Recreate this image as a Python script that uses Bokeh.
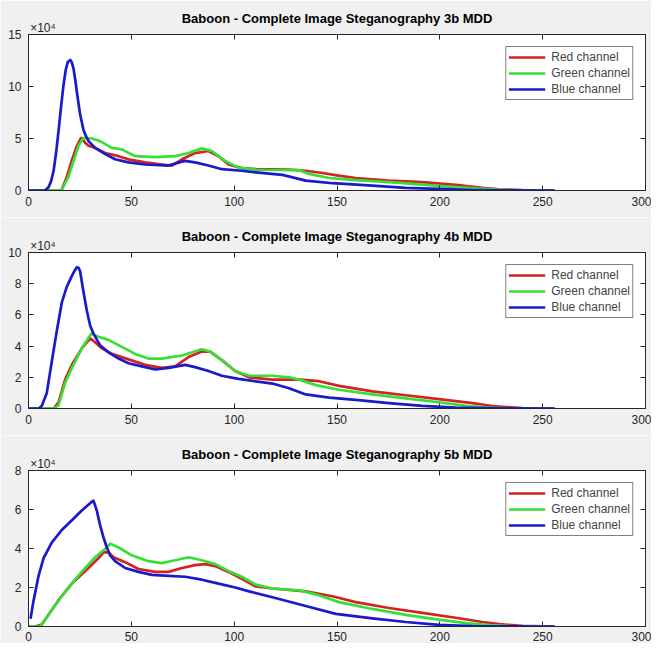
from bokeh.plotting import figure
from bokeh.models import LinearAxis, Range1d, FixedTicker
from bokeh.layouts import column
from bokeh.embed import file_html
from bokeh.resources import INLINE

# ---------------- data (values in units of 10^4 pixels) ----------------
x_ticks = [0, 50, 100, 150, 200, 250, 300]
series_names = ["Red channel", "Green channel", "Blue channel"]
exponent_text = "\u00d710\u2074"

titles = ["Baboon - Complete Image Steganography 3b MDD",
          "Baboon - Complete Image Steganography 4b MDD",
          "Baboon - Complete Image Steganography 5b MDD"]
y_max = [15, 10, 8]
y_ticks_3b = [0, 5, 10, 15]
y_ticks_4b = [0, 2, 4, 6, 8, 10]
y_ticks_5b = [0, 2, 4, 6, 8]

# 3b
red_3b_x = [0, 16, 18.6, 21, 23.5, 25.6, 27.5, 29.2, 32.4, 37.3, 43.8, 48.6, 56.7, 64.8, 69.7, 74.6, 81, 87.5,
            92.4, 97.2, 103.7, 110.5, 126.7, 134.8, 142.9, 150, 159.1, 175.3, 191.5, 207.7, 220.7, 228.8, 240, 255]
red_3b_y = [0, 0, 1.3, 2.85, 4.3, 5.05, 4.6, 4.3, 4.1, 3.6, 3.3, 3.0, 2.7, 2.5, 2.4, 3.0, 3.6, 3.8,
            3.3, 2.5, 2.15, 2.05, 2.0, 1.9, 1.68, 1.45, 1.2, 0.95, 0.8, 0.55, 0.25, 0.12, 0.03, 0]
green_3b_x = [0, 16, 19.4, 21.9, 24.3, 26.7, 30.8, 34.8, 40.5, 45.4, 51.9, 61.6, 71.3, 77.8, 84.3, 89.1, 95.6,
              102, 110.5, 131.6, 136.4, 146.2, 159.1, 175.3, 191.5, 207.7, 220.7, 232, 255]
green_3b_y = [0, 0, 1.3, 2.85, 4.3, 5.05, 5.0, 4.75, 4.1, 3.95, 3.3, 3.2, 3.3, 3.6, 4.05, 3.8, 2.85,
              2.2, 2.0, 1.95, 1.6, 1.2, 1.0, 0.8, 0.57, 0.32, 0.15, 0.03, 0]
blue_3b_x = [0, 8, 9.7, 11, 12.2, 13.4, 14.6, 15.8, 17, 18.1, 19.1, 20.3, 21.1, 21.9, 22.7, 23.5, 25.1, 26.7,
             28, 29.2, 32.4, 37.3, 42.1, 48.6, 56.7, 68, 76, 81, 87.5, 94, 103.7, 110.5, 123.5, 134.8, 147.8,
             167.2, 183.4, 199.6, 215.9, 230, 256]
blue_3b_y = [0, 0, 0.3, 0.9, 1.9, 3.6, 5.7, 8.0, 10.1, 11.6, 12.35, 12.55, 12.3, 11.7, 10.7, 9.5, 7.3, 5.85,
             5.2, 4.75, 4.1, 3.5, 3.0, 2.7, 2.5, 2.4, 2.85, 2.7, 2.4, 2.05, 1.9, 1.75, 1.5, 0.95, 0.7,
             0.47, 0.25, 0.15, 0.05, 0.01, 0]

# 4b
red_4b_x = [0, 12.2, 14.6, 17.8, 21.1, 25.9, 30, 32.4, 35.7, 40.5, 48.6, 56.7, 64.8, 71.3, 77.8, 84.3, 88.3, 94,
            100.5, 107.3, 118.6, 131.6, 141.3, 151, 167.2, 183.4, 199.6, 215.9, 227.2, 240, 255]
red_4b_y = [0, 0, 0.4, 1.85, 2.8, 3.85, 4.5, 4.25, 3.85, 3.5, 3.15, 2.8, 2.6, 2.7, 3.3, 3.65, 3.65, 3.1,
            2.4, 2.0, 1.85, 1.85, 1.75, 1.45, 1.1, 0.85, 0.6, 0.35, 0.13, 0.03, 0]
green_4b_x = [0, 12.2, 14.6, 17.8, 21.1, 25.9, 30.5, 34, 38.9, 45.4, 51.9, 58.3, 64.8, 74.6, 84.3, 88.3, 94,
              100.5, 107.3, 118.6, 126.7, 131.6, 139.7, 151, 167.2, 183.4, 199.6, 212.6, 224, 235, 255]
green_4b_y = [0, 0, 0.2, 1.65, 2.6, 3.85, 4.8, 4.6, 4.4, 3.95, 3.5, 3.2, 3.2, 3.4, 3.8, 3.65, 3.1,
              2.4, 2.1, 2.1, 2.0, 1.85, 1.5, 1.2, 0.9, 0.65, 0.4, 0.17, 0.05, 0.01, 0]
blue_4b_x = [0, 5, 6.5, 8.9, 11.3, 13.8, 16.2, 18.6, 21.1, 22.5, 23.5, 24.4, 25.1, 26.7, 28.4, 30, 31.6, 34.8,
             38.9, 43.8, 48.6, 55.1, 61.6, 68.1, 76.2, 81, 87.5, 94, 102.1, 107.3, 118.6, 126.7, 134.8, 146.2,
             159.1, 175.3, 191.5, 207.7, 224, 256]
blue_4b_y = [0, 0, 0.17, 1.0, 3.0, 5.0, 6.8, 7.8, 8.5, 8.85, 9.05, 9.0, 8.8, 7.5, 6.25, 5.3, 4.8, 4.05,
             3.6, 3.2, 2.9, 2.7, 2.5, 2.6, 2.8, 2.65, 2.4, 2.1, 1.9, 1.8, 1.6, 1.3, 0.9, 0.7,
             0.55, 0.35, 0.17, 0.06, 0.02, 0]

# 5b
red_5b_x = [0, 3.2, 6.5, 9.7, 14.6, 21.1, 27.6, 34, 36.5, 38.9, 41.3, 47, 53.5, 61.6, 68.1, 74.6, 81, 85.9,
            90.8, 97.2, 103.7, 110.5, 118.6, 134.8, 147.8, 159.1, 175.3, 191.5, 207.7, 220.7, 228.8, 240, 255]
red_5b_y = [0, 0, 0.1, 0.6, 1.35, 2.2, 2.85, 3.5, 3.8, 3.8, 3.55, 3.3, 2.95, 2.8, 2.8, 3.0, 3.15, 3.2,
            3.1, 2.8, 2.45, 2.05, 1.95, 1.8, 1.55, 1.25, 0.95, 0.7, 0.45, 0.23, 0.12, 0.03, 0]
green_5b_x = [0, 5.5, 8.1, 13, 19.4, 25.9, 32.4, 38.1, 39.7, 43.8, 50.2, 58.3, 64.8, 71.3, 77.8, 84.3, 90.8,
              97.2, 103.7, 110.5, 118.6, 131.6, 139.7, 151, 167.2, 183.4, 199.6, 212.6, 224, 235, 255]
green_5b_y = [0, 0, 0.35, 1.1, 2.0, 2.8, 3.55, 4.05, 4.25, 4.05, 3.65, 3.35, 3.25, 3.4, 3.55, 3.4, 3.2,
              2.85, 2.55, 2.15, 1.95, 1.85, 1.65, 1.25, 0.9, 0.6, 0.35, 0.17, 0.07, 0.01, 0]
blue_5b_x = [1, 2.4, 4.9, 7.3, 11.3, 16.2, 21.1, 25.9, 30.8, 31.6, 33.2, 34.8, 36.5, 38.1, 39.7, 42.1, 47, 53.5,
             60, 68.1, 76.2, 84.3, 92.4, 100.5, 107.3, 118.6, 134.8, 149.4, 167.2, 183.4, 199.6, 215.9, 230, 256]
blue_5b_y = [0.4, 1.3, 2.6, 3.5, 4.3, 4.95, 5.45, 5.95, 6.4, 6.45, 5.95, 5.2, 4.55, 4.05, 3.65, 3.35, 3.0, 2.8,
             2.65, 2.6, 2.55, 2.4, 2.2, 2.0, 1.8, 1.5, 1.05, 0.65, 0.42, 0.23, 0.08, 0.02, 0.005, 0]

# ---------------- styling ----------------
COLORS = ["#d42222", "#35e035", "#1a1ac8"]
FONT = "Liberation Sans"
GREY = "#f0f0f0"
AXC = "#262626"
EXP_X = 7      # anchor of the x10^4 multiplier (centre of its text, in x units)
TITLE_X = 150  # anchor of the panel title (centre of the x range)

# (title, ymax, yticks, data, fig height, top border, bottom border, x label standoff)
panels = [
    (titles[0], y_max[0], y_ticks_3b,
     [(red_3b_x, red_3b_y), (green_3b_x, green_3b_y), (blue_3b_x, blue_3b_y)], 217, 34, 27, 6),
    (titles[1], y_max[1], y_ticks_4b,
     [(red_4b_x, red_4b_y), (green_4b_x, green_4b_y), (blue_4b_x, blue_4b_y)], 218, 35, 27, 6),
    (titles[2], y_max[2], y_ticks_5b,
     [(red_5b_x, red_5b_y), (green_5b_x, green_5b_y), (blue_5b_x, blue_5b_y)], 208, 35, 17, 5),
]


def style_axis(ax, ticks, show_labels):
    ax.ticker = FixedTicker(ticks=ticks)
    ax.major_tick_in = 5
    ax.major_tick_out = 0
    ax.minor_tick_line_color = None
    ax.axis_line_color = AXC
    ax.major_tick_line_color = AXC
    ax.major_label_text_font = FONT
    if show_labels:
        ax.major_label_text_font_size = "12px"
        ax.major_label_text_color = AXC
    else:
        ax.major_label_text_font_size = "0px"
        ax.major_label_text_color = None
        ax.major_label_standoff = 0


def text_axis(pos, text, size, style, color, standoff):
    ax = LinearAxis(ticker=FixedTicker(ticks=[pos]), major_label_overrides={pos: text})
    ax.axis_line_color = None
    ax.major_tick_line_color = None
    ax.minor_tick_line_color = None
    ax.major_tick_in = 0
    ax.major_tick_out = 0
    ax.major_label_standoff = standoff
    ax.major_label_text_font = FONT
    ax.major_label_text_font_size = size
    ax.major_label_text_font_style = style
    ax.major_label_text_color = color
    return ax


figs = []
for title, ymax, yticks, data, h, btop, bbot, xstand in panels:
    p = figure(width=651, height=h, x_range=Range1d(0, 300), y_range=Range1d(0, ymax),
               output_backend="svg", toolbar_location=None,
               min_border_left=28, min_border_right=6, min_border_top=btop, min_border_bottom=bbot,
               background_fill_color="white", border_fill_color=GREY)
    p.grid.visible = False
    p.outline_line_color = AXC
    style_axis(p.xaxis[0], x_ticks, True)
    p.xaxis[0].major_label_standoff = xstand
    style_axis(p.yaxis[0], yticks, True)
    p.yaxis[0].major_label_standoff = 7

    top = LinearAxis()
    style_axis(top, x_ticks, False)
    p.add_layout(top, "above")
    p.add_layout(text_axis(EXP_X, exponent_text, "12px", "normal", AXC, 0), "above")
    p.add_layout(text_axis(TITLE_X, title, "13px", "bold", "black", -8), "above")

    right = LinearAxis()
    style_axis(right, yticks, False)
    p.add_layout(right, "right")

    for (xs, ys), name, c in zip(data, series_names, COLORS):
        p.line(xs, ys, line_color=c, line_width=2.7, legend_label=name, line_join="round")

    lg = p.legend[0]
    lg.location = "top_right"
    lg.margin = 12
    lg.padding = 2
    lg.spacing = 0
    lg.label_height = 16
    lg.glyph_height = 16
    lg.glyph_width = 37
    lg.label_standoff = 6
    lg.label_text_font = FONT
    lg.label_text_font_size = "12px"
    lg.border_line_color = "black"
    lg.border_line_width = 1
    lg.background_fill_color = "white"
    lg.background_fill_alpha = 1
    figs.append(p)

layout = column(*figs, spacing=0)
open("out.html", "w").write(file_html(layout, INLINE))
